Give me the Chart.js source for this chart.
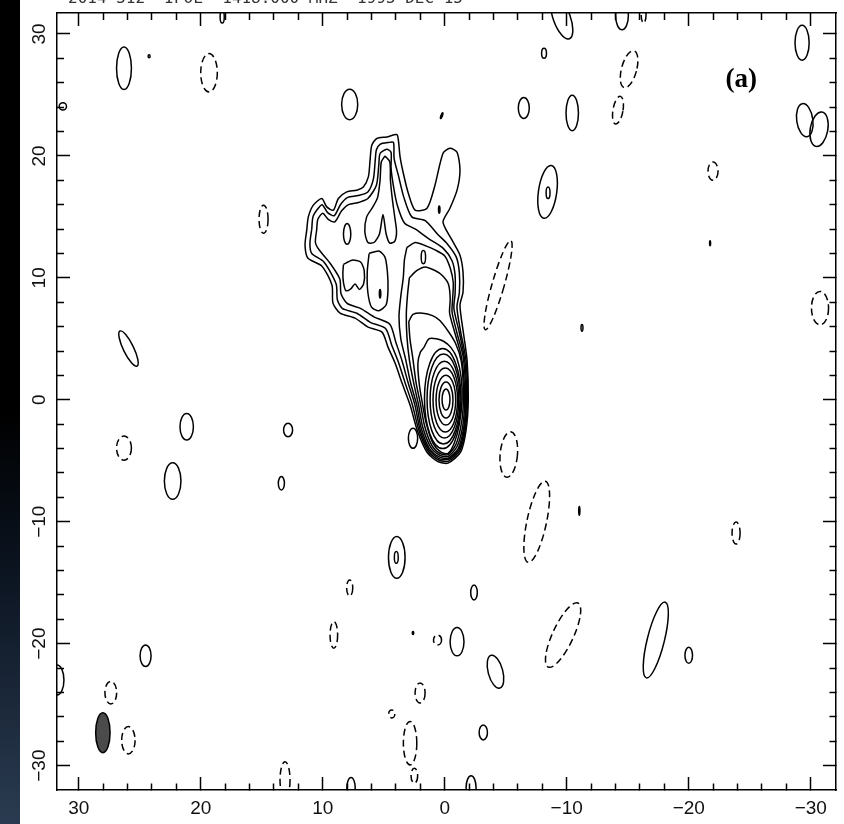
<!DOCTYPE html>
<html>
<head>
<meta charset="utf-8">
<title>Contour map</title>
<script src="https://cdn.jsdelivr.net/npm/chart.js@4.4.1/dist/chart.umd.min.js"></script>
<style>
  html, body { margin: 0; padding: 0; }
  body {
    width: 844px; height: 824px; overflow: hidden;
    background: linear-gradient(180deg, #000 0%, #000 50%, #0c1522 70%, #2a3b51 100%);
  }
  #map {
    display: block;
    background: linear-gradient(90deg, transparent 0, transparent 20px, #fff 20px);
  }
</style>
</head>
<body>
<canvas id="map" width="844" height="824"></canvas>
<script>
// offsets in arcsec, RA increases to the left
const xRange = [-32.07, 31.78];
const yRange = [-32.0, 31.72];
const majorTicks = [-30, -20, -10, 0, 10, 20, 30];
const minorStep = 2;

const headerText = '2014-512  IPOL  1418.000 MHZ  1995 DEC 15';
const panelTag = '(a)';
const panelTagAt = [-24.3, 26.2];

// main source: irregular closed contours, [x, y]
const envelope1 = [[11.31,13.91],[11.18,15.00],[10.77,15.96],[10.08,16.51],[9.67,15.82],[9.13,15.55],[8.72,16.51],[8.03,17.05],[7.21,17.19],[6.67,17.46],[6.26,18.28],[6.12,19.65],[5.98,20.88],[5.57,21.43],[4.75,21.56],[3.93,21.75],[3.80,21.29],[3.66,19.92],[3.39,18.56],[2.98,16.92],[2.43,15.55],[1.45,15.71],[0.80,17.60],[0.14,20.22],[-0.43,20.63],[-1.01,20.30],[-1.25,18.83],[-1.01,17.19],[-0.43,15.71],[0.14,14.57],[-0.60,13.09],[-1.25,11.86],[-1.50,10.47],[-1.50,8.83],[-1.25,7.76],[-1.50,5.71],[-1.83,3.26],[-1.93,0.0],[-1.75,-2.48],[-1.30,-4.29],[-0.27,-5.19],[0.60,-5.05],[1.45,-4.30],[2.22,-2.60],[2.84,-0.43],[3.50,1.37],[4.07,3.01],[4.65,4.32],[5.14,5.55],[6.29,5.96],[7.35,6.70],[8.58,7.11],[9.16,7.93],[9.24,9.40],[10.06,10.96],[11.21,11.61],[11.45,12.68],[11.31,13.91]];
const envelope2 = [[10.9,14.0],[10.8,15.0],[10.45,15.6],[10.05,16.0],[9.6,15.35],[9.05,15.1],[8.55,16.0],[7.95,16.6],[7.1,16.75],[6.3,17.05],[5.85,18.1],[5.7,19.6],[5.6,20.5],[5.3,20.95],[4.6,21.1],[4.2,21.1],[4.15,19.8],[3.8,18.4],[3.35,16.6],[2.7,15.0],[1.6,14.7],[0.6,13.6],[-0.2,12.8],[-0.95,11.7],[-1.2,10.4],[-1.2,8.8],[-1.0,7.6],[-1.3,5.6],[-1.75,3.2],[-1.86,0.0],[-1.68,-2.45],[-1.22,-4.2],[-0.27,-5.05],[0.55,-4.92],[1.37,-4.2],[2.12,-2.5],[2.65,-0.4],[3.25,1.4],[3.8,3.1],[4.35,4.5],[4.85,5.85],[6.1,6.35],[7.2,7.1],[8.4,7.5],[8.8,8.2],[8.9,9.5],[9.9,11.3],[10.9,12.0],[11.05,12.8],[10.9,14.0]];
const envelope3 = [[10.5,13.9],[10.4,14.8],[10.0,15.3],[9.55,14.8],[9.0,14.6],[8.45,15.5],[7.9,16.0],[7.0,16.2],[6.3,16.5],[5.6,17.6],[5.4,19.3],[5.3,20.2],[4.75,20.55],[4.4,20.3],[4.4,19.0],[4.2,17.5],[3.9,16.0],[3.3,14.5],[2.4,14.0],[1.3,13.2],[0.1,12.4],[-0.6,11.4],[-0.85,10.2],[-0.85,8.7],[-0.75,7.5],[-1.2,5.5],[-1.66,3.1],[-1.78,0.0],[-1.6,-2.45],[-1.16,-4.1],[-0.27,-4.9],[0.5,-4.8],[1.3,-4.1],[2.02,-2.45],[2.45,-0.4],[3.0,1.4],[3.5,3.2],[4.0,4.7],[4.5,6.2],[5.8,6.8],[6.9,7.5],[8.0,7.9],[8.5,8.7],[8.6,9.9],[9.4,11.2],[10.3,12.3],[10.6,12.9],[10.5,13.9]];
const ridgeNorth = [[4.9,20.0],[4.5,19.5],[4.45,18.0],[4.3,16.5],[4.1,15.0],[3.95,13.8],[4.1,13.0],[4.5,12.85],[4.8,13.6],[5.06,15.2],[5.35,13.6],[5.8,12.9],[6.3,12.9],[6.55,13.8],[6.4,15.0],[5.9,15.8],[5.5,16.6],[5.3,18.0],[5.2,19.5],[4.9,20.0]];
const lobeWest = [[8.3,11.1],[7.6,11.45],[6.9,11.3],[6.6,10.6],[6.65,9.5],[7.0,9.05],[7.35,9.5],[7.7,9.1],[8.1,8.95],[8.3,9.6],[8.35,10.4],[8.3,11.1]];
const lobeMiddle = [[6.2,12.0],[5.4,12.2],[4.9,11.7],[4.7,10.5],[4.65,9.0],[4.8,7.8],[5.4,7.3],[6.0,7.6],[6.3,8.8],[6.35,10.5],[6.2,12.0]];
const jet1 = [[3.1,12.5],[2.4,12.9],[1.5,12.6],[0.8,12.3],[0.0,11.8],[-0.45,10.8],[-0.7,9.6],[-0.65,8.3],[-0.6,7.2],[-1.0,5.5],[-1.5,3.6],[-1.7,1.2],[-1.7,-0.8],[-1.52,-2.5],[-1.1,-4.0],[-0.27,-4.8],[0.45,-4.68],[1.25,-4.0],[1.92,-2.35],[2.3,-0.4],[2.8,1.4],[3.2,3.3],[3.6,5.0],[3.75,6.8],[3.6,8.5],[3.4,10.0],[3.3,11.5],[3.1,12.5]];
const jet2 = [[2.9,10.0],[2.3,10.6],[1.6,10.9],[0.8,10.6],[0.2,10.2],[-0.3,9.5],[-0.45,8.3],[-0.4,7.1],[-0.8,5.6],[-1.35,3.6],[-1.61,1.2],[-1.61,-0.8],[-1.43,-2.4],[-1.0,-3.85],[-0.27,-4.65],[0.4,-4.55],[1.15,-3.88],[1.8,-2.25],[2.15,-0.4],[2.55,1.4],[2.9,3.3],[3.1,5.2],[3.15,7.0],[3.05,8.6],[2.9,10.0]];
const jet3 = [[2.95,6.4],[2.6,7.0],[1.8,7.1],[1.0,6.9],[0.4,6.5],[-0.3,5.6],[-0.9,4.6],[-1.35,3.2],[-1.52,1.2],[-1.5,-0.8],[-1.3,-2.3],[-0.9,-3.7],[-0.27,-4.5],[0.35,-4.42],[1.05,-3.75],[1.65,-2.15],[2.0,-0.3],[2.35,1.4],[2.6,3.3],[2.85,5.0],[2.95,6.4]];
const jet4 = [[1.7,4.3],[1.3,5.0],[0.7,5.0],[0.1,4.8],[-0.5,4.3],[-1.0,3.4],[-1.35,1.8],[-1.42,0],[-1.2,-2.0],[-0.8,-3.5],[-0.27,-4.4],[0.3,-4.3],[0.95,-3.6],[1.5,-2.0],[1.85,-0.2],[2.1,1.4],[2.2,3.0],[2.0,3.9],[1.7,4.3]];

// core rings: [cx, cy, rx, ry]
const coreRings = [
  [-0.105, 0.02, 0.325, 0.86],
  [-0.105, -0.025, 0.575, 1.475],
  [-0.095, -0.025, 0.805, 2.045],
  [-0.045, -0.025, 1.005, 2.625],
  [0.025, 0.015, 1.175, 3.155],
  [0.1, 0.06, 1.35, 3.69],
  [0.165, 0.1, 1.495, 4.1]
];

// compact positive components: [cx, cy, rx, ry, tilt deg]
const positiveBlobs = [
  [26.29, 27.19, 0.61, 1.75, 0], [24.23, 28.17, 0.08, 0.12, 0], [18.24, 31.4, 0.17, 0.5, 0],
  [31.3, 24.07, 0.3, 0.3, 0], [7.79, 24.22, 0.66, 1.25, 0], [0.25, 23.3, 0.06, 0.25, 20],
  [25.92, 4.2, 0.42, 1.6, -26], [-9.6, 31.3, 0.7, 1.8, -20], [-14.53, 31.5, 0.52, 1.15, 0],
  [-8.14, 28.42, 0.2, 0.41, 0], [-6.48, 23.93, 0.45, 0.86, 0], [-10.45, 23.52, 0.51, 1.46, 0],
  [-8.43, 17.05, 0.75, 2.19, 8], [-8.47, 16.98, 0.16, 0.48, 0], [-21.75, 12.84, 0.04, 0.2, 0],
  [-11.25, 5.9, 0.08, 0.28, 0], [-29.29, 29.28, 0.58, 1.43, 0], [-29.51, 22.93, 0.66, 1.37, -8],
  [-30.68, 22.19, 0.72, 1.43, 10], [21.15, -2.21, 0.55, 1.09, 0], [22.3, -6.66, 0.68, 1.5, 0],
  [12.84, -2.48, 0.37, 0.55, 0], [13.39, -6.85, 0.25, 0.55, 0], [2.6, -3.16, 0.38, 0.82, 0],
  [3.93, -12.93, 0.68, 1.71, 0], [3.97, -12.93, 0.16, 0.48, 0], [2.6, -19.12, 0.06, 0.12, 0],
  [24.52, -20.99, 0.45, 0.89, 0], [31.78, -22.98, 0.57, 1.23, 0], [7.68, -31.8, 0.34, 0.82, 0],
  [-11.03, -9.11, 0.05, 0.35, 0], [-2.4, -15.8, 0.27, 0.61, 0], [-1.01, -19.84, 0.57, 1.16, 0],
  [-4.16, -22.3, 0.6, 1.39, -15], [-17.3, -19.7, 0.7, 3.2, 14], [-20.0, -20.95, 0.31, 0.66, 0],
  [-3.16, -27.28, 0.34, 0.61, 0], [-2.16, -31.82, 0.41, 0.98, 0],
  [8.0, 13.6, 0.3, 0.85, 0], [1.75, 11.7, 0.18, 0.55, 0], [0.45, 15.6, 0.06, 0.3, 0], [5.3, 8.7, 0.06, 0.35, 0]
];

// negative components (dashed)
const negativeBlobs = [
  [19.32, 26.82, 0.68, 1.57, 0], [14.85, 14.81, 0.37, 1.15, 0], [-16.3, 31.6, 0.2, 0.7, 0],
  [-15.11, 27.11, 0.62, 1.56, 15], [-14.2, 23.75, 0.41, 1.15, 10], [-21.99, 18.75, 0.41, 0.75, 0],
  [-30.76, 7.52, 0.7, 1.37, 0], [-4.37, 9.4, 0.5, 3.8, 16], [26.29, -3.96, 0.61, 0.99, 0],
  [7.79, -15.43, 0.25, 0.66, 0], [9.09, -19.29, 0.31, 1.09, 0], [0.59, -19.7, 0.33, 0.41, 0],
  [27.37, -24.02, 0.48, 0.92, 0], [25.93, -27.92, 0.55, 1.12, 0], [13.09, -31.17, 0.41, 1.48, 0],
  [2.84, -28.16, 0.55, 1.78, 0], [2.02, -24.04, 0.41, 0.82, 0], [4.34, -25.76, 0.25, 0.33, 0],
  [2.49, -30.83, 0.27, 0.61, 0], [-5.25, -4.49, 0.71, 1.87, 5], [-7.54, -10.0, 0.8, 3.4, 12],
  [-23.88, -10.93, 0.33, 0.9, 0], [-9.7, -19.29, 0.85, 2.9, 25]
];

// restoring beam
const beam = [28.02, -27.3, 0.59, 1.64, 0];

const ink = '#000';
const lineWidth = 1.5;
const dash = [7, 4];

const sourcePaths = [envelope1, envelope2, envelope3, ridgeNorth, lobeWest, lobeMiddle, jet1, jet2, jet3, jet4];

const datasets = sourcePaths.map(path => ({
  data: path,
  showLine: true,
  borderColor: ink,
  borderWidth: lineWidth,
  pointRadius: 0,
  tension: 0.25,
  fill: false
}));

function ovalPath(ctx, xs, ys, o) {
  const [cx, cy, rx, ry, tilt] = o;
  const px = xs.getPixelForValue(cx);
  const py = ys.getPixelForValue(cy);
  const w = Math.abs(xs.getPixelForValue(cx + rx) - px);
  const h = Math.abs(ys.getPixelForValue(cy + ry) - py);
  ctx.beginPath();
  ctx.ellipse(px, py, w, h, (tilt || 0) * Math.PI / 180, 0, Math.PI * 2);
}

const ovalLayer = {
  id: 'ovalLayer',
  afterDatasetsDraw(chart) {
    const {ctx, chartArea: a, scales: {x, y}} = chart;
    ctx.save();
    ctx.beginPath();
    ctx.rect(a.left, a.top, a.right - a.left, a.bottom - a.top);
    ctx.clip();
    ctx.strokeStyle = ink;
    ctx.lineWidth = lineWidth;

    coreRings.forEach(r => { ovalPath(ctx, x, y, [...r, 0]); ctx.stroke(); });
    positiveBlobs.forEach(b => { ovalPath(ctx, x, y, b); ctx.stroke(); });

    ctx.setLineDash(dash);
    negativeBlobs.forEach(b => { ovalPath(ctx, x, y, b); ctx.stroke(); });
    ctx.setLineDash([]);

    ovalPath(ctx, x, y, beam);
    ctx.fillStyle = '#4b4b4b';
    ctx.fill();
    ctx.stroke();
    ctx.restore();
  },
  afterDraw(chart) {
    const {ctx, scales: {x, y}} = chart;
    ctx.save();
    ctx.fillStyle = ink;
    ctx.font = 'bold 27px "Liberation Serif", "DejaVu Serif", serif';
    ctx.textAlign = 'center';
    ctx.textBaseline = 'middle';
    ctx.fillText(panelTag, x.getPixelForValue(panelTagAt[0]), y.getPixelForValue(panelTagAt[1]));

    // plot header, mostly above the frame
    ctx.font = '16px "DejaVu Sans Mono", monospace';
    ctx.fillStyle = '#333';
    ctx.textAlign = 'left';
    ctx.textBaseline = 'alphabetic';
    ctx.fillText(headerText, 68, 2.5);
    ctx.restore();
  }
};

function tickList(scale) {
  const t = [];
  for (let v = majorTicks[0]; v <= majorTicks[majorTicks.length - 1]; v += minorStep) t.push({value: v});
  scale.ticks = t;
}

function tickLabel(v) {
  return majorTicks.includes(v) ? String(v).replace('-', '\u2212') : '';
}

// minor ticks are shortened with a dash pattern; innerFirst tells the drawing direction
function tickDash(innerFirst) {
  return ctx => {
    if (majorTicks.includes(ctx.tick.value)) return [];
    return innerFirst ? [0, 6, 7, 100] : [7, 100];
  };
}

function fixedSize(size) {
  return scale => {
    if (scale.isHorizontal()) scale.height = size; else scale.width = size;
    scale.paddingLeft = scale.paddingRight = scale.paddingTop = scale.paddingBottom = 0;
  };
}

function axis(position, labelled, size) {
  const horizontal = position === 'top' || position === 'bottom';
  const range = horizontal ? xRange : yRange;
  return {
    type: 'linear',
    position: position,
    min: range[0],
    max: range[1],
    reverse: horizontal,
    afterBuildTicks: tickList,
    afterFit: fixedSize(size),
    border: { display: true, color: ink, width: 1.5 },
    grid: {
      drawOnChartArea: false,
      drawTicks: true,
      tickLength: -13,
      tickWidth: 1.5,
      tickColor: ink,
      tickBorderDash: tickDash(position === 'left' || position === 'top')
    },
    ticks: {
      display: labelled,
      autoSkip: false,
      callback: tickLabel,
      color: '#111',
      font: { family: '"Liberation Sans", Arial, sans-serif', size: 19 }
    }
  };
}

const xAxis = axis('bottom', true, 34);
xAxis.ticks.maxRotation = 0;
xAxis.ticks.padding = 20;
const yAxis = axis('left', true, 57);
yAxis.ticks.minRotation = 90;
yAxis.ticks.maxRotation = 90;
yAxis.ticks.crossAlign = 'center';
yAxis.ticks.padding = 14;

new Chart(document.getElementById('map'), {
  type: 'scatter',
  data: { datasets: datasets },
  options: {
    responsive: false,
    animation: false,
    events: [],
    layout: { padding: 0 },
    plugins: {
      legend: { display: false },
      tooltip: { enabled: false }
    },
    scales: {
      x: xAxis,
      y: yAxis,
      x2: axis('top', false, 13),
      y2: axis('right', false, 8)
    }
  },
  plugins: [ovalLayer]
});
</script>
</body>
</html>
